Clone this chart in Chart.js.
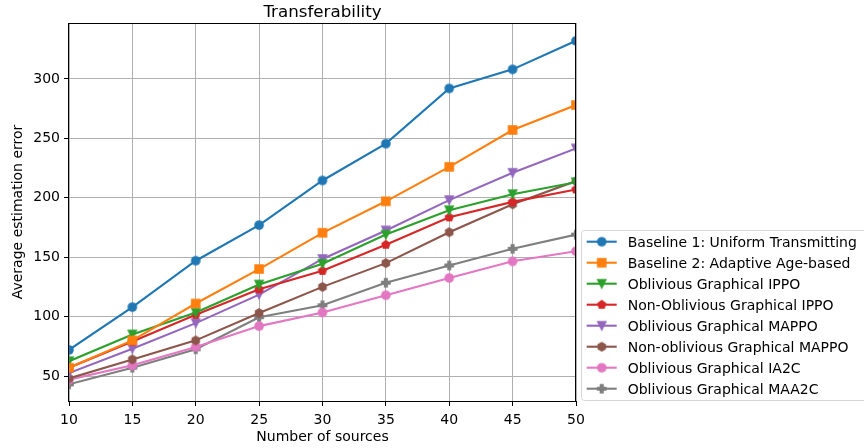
<!DOCTYPE html>
<html lang="en">
<head>
    <meta charset="UTF-8">
    <title>Transferability</title>
    <script src="https://cdn.jsdelivr.net/npm/chart.js"></script>
    <style>
        html, body { margin: 0; padding: 0; background: #fff; }
        #wrap { width: 864px; height: 448px; }
    </style>
</head>
<body>
<div id="wrap"><canvas id="lineChart" width="864" height="448"></canvas></div>
<script>
    // x values (number of sources)
    var sources = [10, 15, 20, 25, 30, 35, 40, 45, 50];
    var yTicks = [50, 100, 150, 200, 250, 300];

    // series
    var baseline1 = [72, 108, 147, 177, 214.5, 245.5, 292, 308, 332];
    var baseline2 = [57, 80, 111, 140, 170.5, 197, 226, 257, 278];
    var oblIppo = [62.5, 85, 103.5, 127, 144.5, 169, 189.5, 203, 213];
    var nonOblIppo = [57, 79, 101.5, 123, 138.5, 160.5, 183.5, 196.5, 207];
    var oblMappo = [52.5, 73, 94.5, 118.5, 148.5, 172.5, 198, 221, 241.5];
    var nonOblMappo = [48, 64, 80, 103, 125, 145, 171, 194.5, 214];
    var oblIa2c = [47, 59, 74.5, 92, 103.5, 118, 132.5, 146.5, 155];
    var oblMaa2c = [43, 57, 72.5, 99.5, 109.5, 128.5, 143, 157, 169];

    var seriesNames = [
        'Baseline 1: Uniform Transmitting',
        'Baseline 2: Adaptive Age-based',
        'Oblivious Graphical IPPO',
        'Non-Oblivious Graphical IPPO',
        'Oblivious Graphical MAPPO',
        'Non-oblivious Graphical MAPPO',
        'Oblivious Graphical IA2C',
        'Oblivious Graphical MAA2C'
    ];
    var seriesData = [baseline1, baseline2, oblIppo, nonOblIppo, oblMappo, nonOblMappo, oblIa2c, oblMaa2c];
    var colors = ['#1f77b4', '#ff7f0e', '#2ca02c', '#d62728', '#9467bd', '#8c564b', '#e377c2', '#7f7f7f'];
    var shapes = ['circle', 'square', 'tridown', 'pentagon', 'tridown', 'hexagon', 'circle', 'plus'];

    var FONT = 'DejaVu Sans';

    // build a small canvas with a matplotlib-like marker
    function makeMarker(shape, color) {
        var c = document.createElement('canvas');
        c.width = 16; c.height = 16;
        var g = c.getContext('2d');
        var s = 8.2, h = s / 2;
        g.translate(8, 8);
        g.beginPath();
        if (shape === 'circle') {
            g.arc(0, 0, h, 0, Math.PI * 2);
        } else if (shape === 'square') {
            g.rect(-h, -h, s, s);
        } else if (shape === 'tridown') {
            g.moveTo(-h, -h); g.lineTo(h, -h); g.lineTo(0, h); g.closePath();
        } else if (shape === 'pentagon' || shape === 'hexagon') {
            var n = shape === 'pentagon' ? 5 : 6;
            for (var i = 0; i < n; i++) {
                var a = -Math.PI / 2 + i * 2 * Math.PI / n;
                var px = Math.cos(a) * h, py = Math.sin(a) * h;
                if (i === 0) g.moveTo(px, py); else g.lineTo(px, py);
            }
            g.closePath();
        } else if (shape === 'plus') {
            var t = s / 6;
            g.moveTo(-t, -h); g.lineTo(t, -h); g.lineTo(t, -t); g.lineTo(h, -t);
            g.lineTo(h, t); g.lineTo(t, t); g.lineTo(t, h); g.lineTo(-t, h);
            g.lineTo(-t, t); g.lineTo(-h, t); g.lineTo(-h, -t); g.lineTo(-t, -t);
            g.closePath();
        }
        g.fillStyle = color;
        g.fill();
        g.lineWidth = 1.4;
        g.strokeStyle = color;
        g.lineJoin = 'miter';
        g.stroke();
        return c;
    }

    var datasets = seriesNames.map(function (name, i) {
        var m = makeMarker(shapes[i], colors[i]);
        return {
            label: name,
            data: seriesData[i],
            borderColor: colors[i],
            backgroundColor: colors[i],
            borderWidth: 2.1,
            pointStyle: m,
            pointRadius: 4.5,
            tension: 0,
            clip: 0,
            marker: m
        };
    });

    // spines, title and legend drawn on top like matplotlib
    var extrasPlugin = {
        id: 'extras',
        afterDatasetsDraw: function (chart) {
            var a = chart.chartArea, ctx = chart.ctx;
            ctx.save();
            ctx.strokeStyle = '#000';
            ctx.lineWidth = 1;
            var l = Math.round(a.left) - 0.5, r = Math.round(a.right) - 0.5;
            var t = Math.round(a.top) + 0.5, b = Math.round(a.bottom) + 0.5;
            ctx.strokeRect(l, t, r - l, b - t);
            ctx.restore();
        },
        afterDraw: function (chart) {
            var a = chart.chartArea, ctx = chart.ctx;
            ctx.save();
            // title
            ctx.fillStyle = '#000';
            ctx.font = '16.7px "' + FONT + '"';
            ctx.textAlign = 'center';
            ctx.textBaseline = 'alphabetic';
            ctx.fillText('Transferability', (a.left + a.right) / 2, 16.5);

            // legend box
            var bx = 581.5, by = 230.5, bw = 300, bh = 170;
            ctx.beginPath();
            ctx.roundRect(bx, by, bw, bh, 3);
            ctx.fillStyle = 'rgba(255,255,255,0.8)';
            ctx.fill();
            ctx.strokeStyle = '#d6d6d6';
            ctx.lineWidth = 1;
            ctx.stroke();

            ctx.font = '14px "' + FONT + '"';
            ctx.textAlign = 'left';
            chart.data.datasets.forEach(function (ds, i) {
                var cy = 241.7 + i * 21;
                ctx.strokeStyle = ds.borderColor;
                ctx.lineWidth = 2.1;
                ctx.beginPath();
                ctx.moveTo(586.7, cy);
                ctx.lineTo(616.7, cy);
                ctx.stroke();
                ctx.drawImage(ds.marker, 601.7 - 8, cy - 8);
                ctx.fillStyle = '#000';
                ctx.fillText(ds.label, 627.7, cy + 5.3);
            });
            ctx.restore();
        }
    };

    var tickFont = { family: FONT, size: 14 };

    var chart = new Chart(document.getElementById('lineChart').getContext('2d'), {
        type: 'line',
        data: { labels: sources, datasets: datasets },
        options: {
            responsive: false,
            animation: false,
            events: [],
            layout: { padding: { left: 0, right: 288, top: 23, bottom: 0 } },
            plugins: {
                legend: { display: false },
                title: { display: false },
                tooltip: { enabled: false }
            },
            scales: {
                x: {
                    type: 'category',
                    offset: false,
                    grid: { color: '#b0b0b0', lineWidth: 1, tickColor: '#000', tickLength: 5, tickWidth: 1 },
                    border: { display: false },
                    ticks: { color: '#000', font: tickFont, padding: 6, maxRotation: 0, autoSkip: false },
                    title: { display: true, text: 'Number of sources', color: '#000', font: tickFont, padding: { top: 0, bottom: 2 } },
                    afterFit: function (s) { s.height = 47; }
                },
                y: {
                    min: 29,
                    max: 347,
                    grid: { color: '#b0b0b0', lineWidth: 1, tickColor: '#000', tickLength: 5, tickWidth: 1 },
                    border: { display: false },
                    ticks: { color: '#000', font: tickFont, padding: 4, stepSize: 50 },
                    afterBuildTicks: function (s) {
                        s.ticks = yTicks.map(function (v) { return { value: v }; });
                    },
                    title: { display: true, text: 'Average estimation error', color: '#000', font: tickFont, padding: { top: 10, bottom: 0 } },
                    afterFit: function (s) { s.width = 69; }
                }
            }
        },
        plugins: [extrasPlugin]
    });
</script>
</body>
</html>
